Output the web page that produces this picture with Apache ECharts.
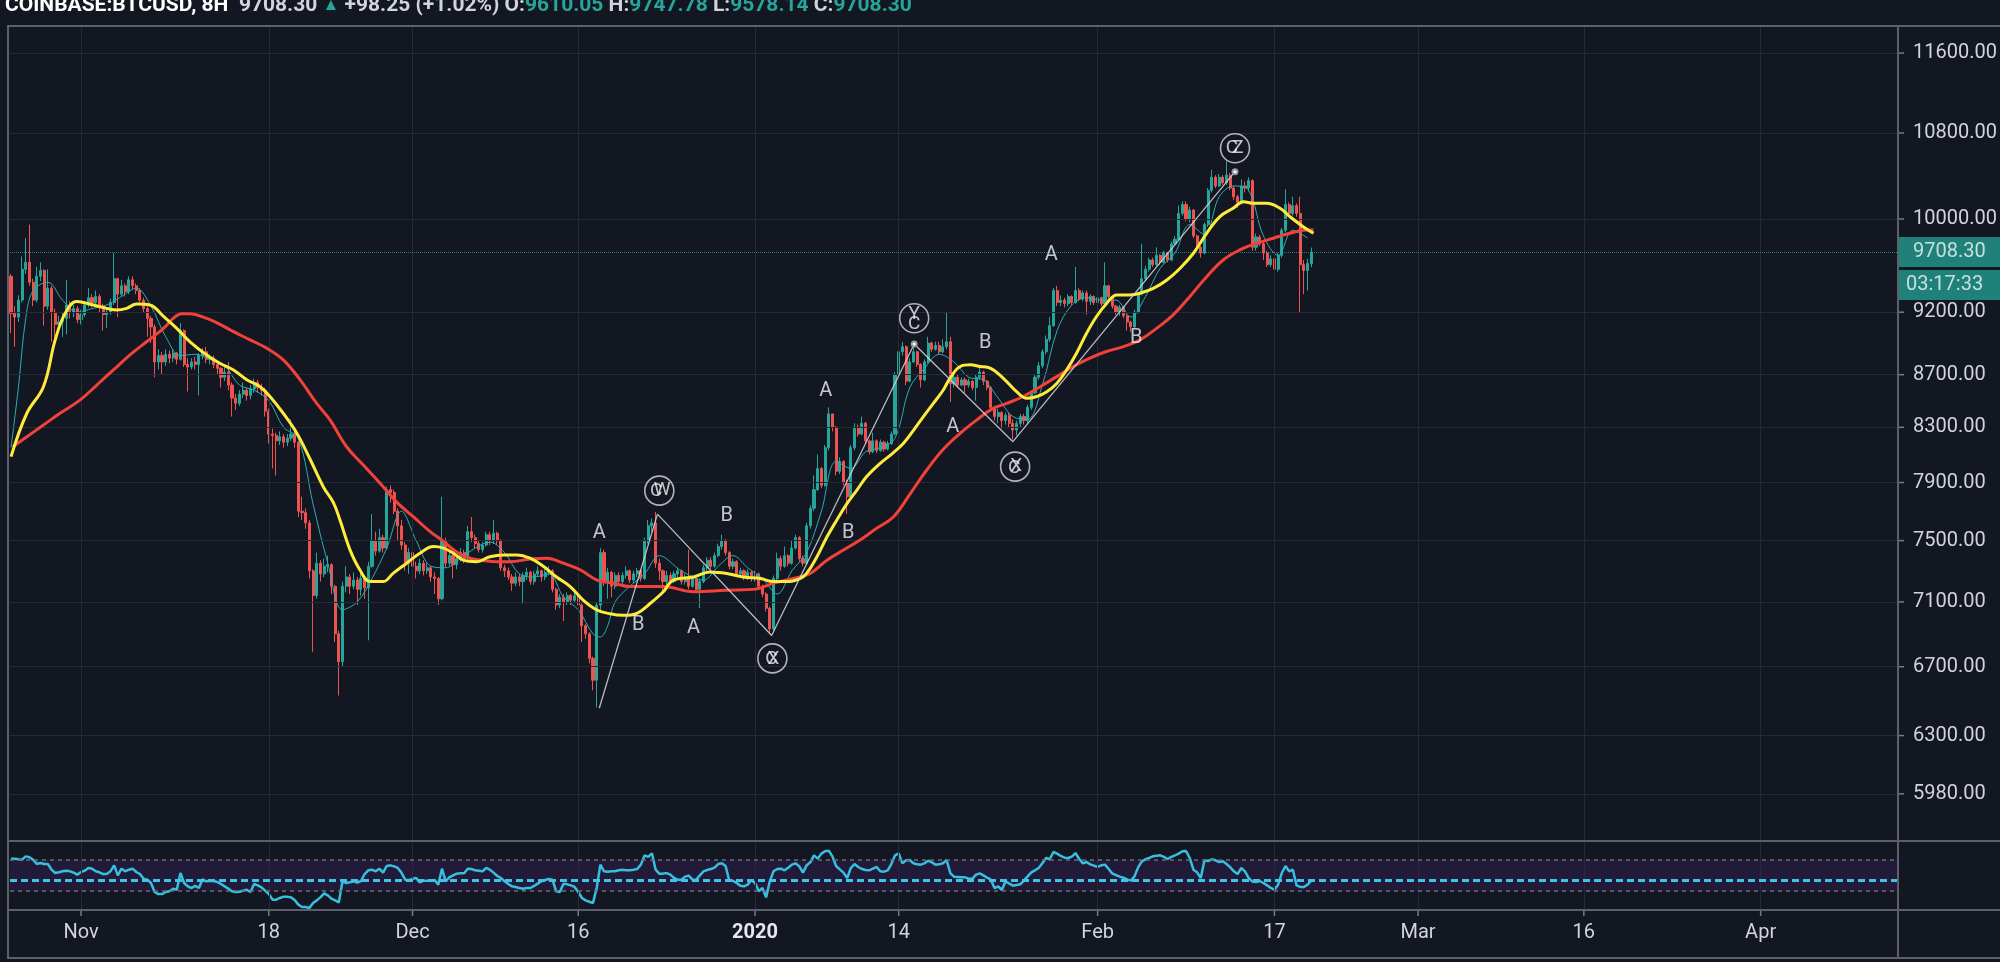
<!DOCTYPE html>
<html><head><meta charset="utf-8">
<script src="https://cdn.jsdelivr.net/npm/echarts@6/dist/echarts.min.js"></script>
<style>html,body{margin:0;padding:0;background:#131722;overflow:hidden}#chart{width:2000px;height:962px}</style>
</head><body><div id="chart"></div>
<script>
// ---------- DATA ----------
const startTime = Date.UTC(2019, 9, 25, 16); // first 8H candle
const barMs = 8 * 3600 * 1000;
const firstOpen = 9500;
const closes = [
9190,9160,9300,9560,9620,9450,9300,9500,9550,9250,
9400,9200,9100,9120,9150,9260,9200,9230,9140,9180,
9260,9320,9280,9330,9250,9180,9200,9280,9480,9350,
9420,9370,9470,9420,9380,9300,9230,9150,9080,8800,
8850,8800,8860,8830,8870,8820,9050,8780,8760,8800,
8780,8850,8880,8820,8830,8780,8750,8680,8720,8620,
8520,8480,8550,8580,8540,8590,8640,8600,8580,8420,
8250,8240,8200,8230,8190,8220,8250,8190,7700,7690,
7620,7300,7140,7350,7280,7330,7340,7200,6900,6730,
7200,7260,7200,7240,7180,7250,7190,7330,7500,7430,
7520,7450,7850,7830,7700,7600,7470,7350,7420,7330,
7300,7350,7300,7320,7260,7250,7120,7500,7350,7400,
7340,7380,7420,7380,7560,7520,7480,7440,7470,7540,
7500,7550,7500,7320,7300,7260,7220,7260,7230,7270,
7290,7230,7280,7300,7260,7290,7300,7180,7080,7130,
7100,7140,7110,7140,7080,6950,6900,6750,6620,7080,
7420,7230,7290,7200,7270,7230,7270,7300,7240,7280,
7300,7250,7500,7600,7620,7350,7300,7230,7270,7230,
7280,7300,7230,7260,7200,7250,7180,7230,7320,7370,
7330,7400,7460,7500,7420,7330,7360,7280,7300,7260,
7290,7250,7280,7200,7150,7060,6930,7250,7380,7330,
7400,7350,7450,7520,7380,7350,7600,7720,7850,8000,
7880,8150,8400,8300,7980,8050,7900,7800,8150,8300,
8250,8330,8200,8120,8200,8130,8190,8140,8180,8250,
8700,8880,8920,8650,8800,8880,8780,8660,8800,8950,
8900,8930,8880,8920,8960,8630,8680,8620,8660,8620,
8650,8600,8680,8720,8650,8600,8450,8380,8410,8350,
8390,8330,8280,8330,8380,8350,8450,8560,8680,8770,
8880,8980,9090,9380,9280,9300,9270,9330,9280,9380,
9310,9360,9290,9330,9280,9320,9270,9420,9330,9250,
9200,9240,9170,9120,9080,9200,9350,9480,9560,9640,
9600,9680,9620,9700,9640,9780,9820,10050,10130,10000,
10080,9850,9750,9700,9950,10260,10380,10300,10380,10330,
10400,10280,10200,10150,10300,10280,10350,9750,9840,9780,
9700,9600,9650,9560,9680,9900,10130,10050,10120,10050,
9600,9550,9610.05,9708.30];
const highs = [
9520,9250,9340,9670,9830,9950,9480,9580,9620,9560,
9560,9420,9230,9170,9200,9470,9290,9260,9250,9220,
9290,9400,9350,9380,9350,9270,9240,9310,9700,9490,
9470,9440,9500,9500,9440,9400,9320,9250,9170,9100,
8900,8880,8900,8890,8900,8880,9110,9060,8830,8830,
8840,8870,8910,8920,8860,8850,8800,8760,8760,8800,
8640,8550,8580,8640,8600,8620,8670,8660,8630,8600,
8440,8290,8260,8270,8250,8250,8360,8280,8200,7800,
7720,7640,7310,7420,7370,7380,7400,7350,7210,6920,
7230,7330,7280,7290,7260,7290,7270,7360,7680,7560,
7580,7540,7870,7880,7850,7720,7640,7490,7450,7440,
7360,7380,7370,7350,7330,7290,7260,7800,7520,7440,
7420,7400,7450,7440,7600,7660,7540,7500,7490,7560,
7560,7640,7560,7510,7340,7320,7280,7290,7280,7290,
7320,7300,7300,7330,7310,7310,7330,7310,7190,7150,
7150,7160,7150,7170,7150,7090,6960,6910,6760,7100,
7450,7440,7320,7300,7290,7290,7290,7330,7310,7300,
7320,7310,7520,7640,7650,7695,7380,7310,7300,7290,
7300,7320,7310,7280,7440,7270,7260,7250,7340,7390,
7390,7420,7480,7540,7510,7430,7380,7370,7320,7310,
7310,7300,7300,7290,7210,7160,7070,7270,7420,7400,
7460,7410,7500,7540,7530,7400,7620,7740,7950,8100,
8010,8170,8450,8380,8310,8080,8060,7920,8170,8330,
8320,8380,8340,8210,8260,8210,8210,8200,8200,8270,
8720,8920,8960,8930,8830,8920,8890,8790,8820,9000,
8960,8960,8960,8980,9200,9000,8710,8700,8680,8680,
8670,8660,8700,8760,8730,8660,8610,8460,8440,8420,
8410,8410,8360,8350,8400,8400,8470,8580,8700,8800,
8900,9010,9160,9400,9420,9340,9320,9350,9340,9580,
9400,9380,9380,9350,9340,9340,9330,9620,9430,9340,
9260,9260,9250,9180,9130,9220,9370,9780,9590,9660,
9660,9750,9690,9720,9710,9800,9850,10120,10160,10160,
10110,10090,9860,9760,9970,10280,10450,10400,10410,10400,
10530,10420,10300,10220,10360,10340,10380,10360,9870,9860,
9800,9720,9680,9660,9700,9920,10270,10150,10200,10140,
10200,9640,9650,9747.78];
const lows = [
9030,8920,9120,9280,9520,9420,9250,9280,9460,9090,
9220,8960,8990,9050,9000,9020,9150,9160,9110,9100,
9160,9240,9240,9260,9200,9050,9070,9180,9260,9160,
9330,9330,9350,9390,9350,9270,9200,9000,8950,8680,
8740,8700,8770,8790,8800,8780,8810,8760,8570,8740,
8740,8540,8820,8790,8780,8750,8700,8600,8650,8580,
8380,8430,8460,8520,8500,8510,8560,8560,8540,8380,
8180,8000,7950,8170,8150,8160,8200,8150,7660,7640,
7580,7250,6790,7120,7230,7260,7290,7150,6850,6530,
6700,7160,7150,7180,7080,7140,7120,6860,7320,7400,
7420,7420,7440,7760,7680,7500,7440,7300,7280,7200,
7250,7280,7270,7280,7230,7150,7080,7110,7320,7330,
7250,7310,7360,7350,7370,7490,7450,7420,7420,7460,
7470,7480,7470,7300,7260,7240,7170,7200,7200,7090,
7240,7210,7210,7260,7230,7240,7270,7160,7050,7060,
6980,7080,7080,7100,7060,6850,6870,6720,6560,6460,
7050,7200,7120,7130,7180,7200,7210,7250,7220,7220,
7260,7230,7240,7480,7560,7320,7240,7150,7200,7210,
7220,7260,7210,7210,7180,7190,7160,7060,7220,7300,
7310,7320,7390,7440,7400,7310,7310,7260,7260,7240,
7240,7230,7230,7180,7130,7040,6900,6920,7240,7300,
7320,7330,7340,7440,7360,7330,7340,7580,7700,7840,
7860,7870,8130,8270,7950,7960,7880,7680,7790,8130,
8230,8240,8180,8100,8110,8110,8120,8120,8130,8170,
8240,8690,8850,8620,8640,8790,8760,8600,8650,8790,
8880,8890,8860,8870,8900,8490,8600,8600,8610,8560,
8600,8580,8500,8660,8620,8580,8420,8350,8330,8290,
8320,8300,8210,8240,8300,8320,8330,8430,8550,8660,
8750,8860,8960,9080,9250,9250,9240,9250,9260,9270,
9290,9290,9180,9260,9260,9260,9250,9260,9310,9230,
9180,9170,9150,9050,9040,9070,9190,9340,9460,9540,
9580,9590,9600,9610,9620,9630,9760,9810,10030,9980,
9970,9830,9730,9660,9690,9930,10240,10280,10290,10310,
10310,10260,10170,10100,10130,10240,10250,9720,9720,9760,
9640,9580,9580,9500,9540,9660,9880,10020,10030,10020,
9200,9350,9380,9578.14];
const rsiValues = [
71.7,71.7,70.9,70.4,74.7,73.5,70.4,64.8,66.1,64.8,
64.8,57.5,53.2,54.1,55.4,56.2,55.4,53.7,51.1,54.5,
56.2,59.7,58.8,55.4,54.1,51.9,51.9,55.4,63.1,50.2,
58.8,55.4,57.5,58.8,54.5,51.9,45.9,44.6,40.3,28.7,
26.1,26.1,28.7,29.6,33.0,31.7,53.2,40.3,36.0,33.9,
36.5,33.9,45.1,42.5,43.3,42.9,41.6,39.0,36.0,33.0,
29.6,28.7,29.1,30.4,31.7,28.7,39.0,37.3,34.7,30.4,
26.1,18.8,18.8,21.0,22.7,22.7,21.8,18.4,12.4,9.4,
9.4,8.1,14.5,17.9,21.8,27.0,24.4,20.1,17.9,15.4,
42.5,40.3,41.2,42.5,40.8,42.9,51.9,56.7,57.5,55.4,
58.8,53.7,62.3,63.1,61.8,59.7,53.7,44.6,43.8,45.9,
46.8,41.2,43.3,43.3,43.3,44.2,38.2,58.8,42.5,47.6,
50.2,52.4,52.8,52.8,58.8,58.4,56.7,56.2,55.4,59.7,
57.5,53.7,49.4,46.8,42.5,39.0,36.0,35.2,33.9,33.0,
33.9,33.9,36.5,39.5,42.5,44.2,45.5,44.6,29.6,28.7,
39.5,38.6,37.3,35.2,28.7,21.0,17.9,16.2,14.5,33.9,
64.0,55.4,54.9,55.4,55.4,56.7,57.5,56.7,56.7,57.5,
58.4,64.0,76.0,73.9,78.6,57.5,52.4,52.4,53.2,51.1,
46.8,44.6,44.6,48.5,49.8,44.6,44.6,50.2,55.4,57.1,
58.4,60.1,64.8,65.7,62.3,43.3,43.3,40.3,36.9,36.0,
38.2,44.2,40.3,29.6,33.9,21.8,42.5,55.4,58.4,58.8,
56.7,60.1,64.0,65.7,61.8,53.7,63.1,67.0,76.0,71.7,
78.2,81.2,82.0,74.7,62.3,57.9,53.7,46.8,59.7,64.8,
61.0,58.4,57.1,56.7,58.8,61.0,55.4,54.9,56.7,64.8,
76.0,78.6,65.7,69.6,70.0,65.7,64.4,64.0,65.7,69.1,
67.0,64.0,64.4,65.7,70.0,53.2,48.5,48.1,47.6,47.6,
45.9,45.9,51.1,52.8,50.2,47.2,44.6,33.9,36.0,31.3,
42.5,39.5,36.9,37.8,38.6,43.8,48.9,54.1,56.7,59.7,
65.7,72.6,70.9,80.3,78.2,75.2,73.0,72.6,74.3,79.0,
71.3,65.7,67.4,64.4,62.7,61.0,63.1,64.0,58.4,52.4,
50.6,48.5,47.2,45.1,43.3,48.9,60.5,68.3,70.9,72.6,
74.7,75.6,76.0,73.9,71.3,73.9,76.0,78.2,81.2,81.6,
72.6,57.5,54.1,46.8,69.6,68.7,70.9,69.6,67.4,68.3,
64.8,60.5,55.4,51.9,59.7,55.4,46.8,42.1,41.6,42.9,
40.3,37.3,33.9,31.7,38.2,53.2,62.3,55.4,57.5,37.3,
35.2,35.2,38.2,43.3];
// moving averages: [candle index, value]
const yellowMA = [[0,8085],[4.3,8405],[8.8,8607],[12,8975],[14.7,9191],[17.8,9288],[20.5,9274],[24.2,9245],[28.7,9218],[31.4,9232],[34.1,9268],[37.7,9260],[41.4,9165],[45,9068],[48.6,8960],[53.1,8855],[56.7,8789],[60.4,8737],[64,8660],[67.6,8607],[70.3,8532],[73.9,8405],[77.6,8256],[81.2,8066],[84.8,7869],[87.5,7760],[89.3,7640],[92,7440],[94.7,7307],[97.5,7230],[101,7230],[103.8,7285],[107.4,7350],[111,7416],[114.7,7460],[117.4,7450],[120.1,7416],[122.8,7370],[126.4,7360],[130,7393],[133.7,7405],[137.3,7405],[140.9,7383],[144.5,7330],[148.1,7260],[151.8,7198],[155.4,7110],[159,7050],[162.6,7025],[166.3,7015],[169.9,7028],[173.5,7090],[177.1,7165],[179.8,7240],[185.3,7260],[189.8,7293],[194.3,7283],[198.8,7260],[203.4,7250],[207,7230],[210.6,7230],[214.2,7250],[216,7283],[218.8,7393],[221.5,7524],[224.2,7640],[226.9,7751],[229.6,7845],[232.3,7942],[235.9,8035],[239.5,8113],[242.3,8183],[245,8278],[247.7,8380],[250.4,8479],[253.1,8582],[254.9,8672],[257.7,8764],[260.4,8777],[263.1,8764],[265.8,8751],[269.4,8672],[273,8569],[275.8,8518],[278.5,8532],[281.2,8569],[283.9,8632],[286.6,8737],[289.3,8870],[292,9028],[294.7,9165],[297.5,9274],[300.2,9343],[303.8,9343],[306.5,9357],[310.1,9398],[313.8,9469],[317.4,9569],[321,9698],[324.6,9873],[328.2,10021],[331.8,10096],[334.6,10156],[337.3,10141],[340.9,10141],[344.5,10096],[347.2,10021],[350.8,9931],[353.6,9873]];
const redMA = [[0.5,8157],[4.3,8230],[8.8,8317],[13.3,8405],[18.7,8504],[23.3,8620],[27.8,8737],[32.3,8855],[36.8,8960],[41.4,9068],[44.1,9151],[46.3,9187],[48.6,9187],[52.2,9159],[55.8,9115],[60.4,9041],[64.9,8975],[69.4,8909],[73.9,8816],[78.5,8660],[83,8479],[86.6,8355],[91.1,8157],[95.7,8023],[100.2,7895],[104.7,7763],[109.2,7662],[113.8,7561],[117.4,7495],[120.8,7428],[124.6,7383],[128.2,7368],[131.9,7360],[135.5,7360],[140.9,7377],[145.4,7383],[150,7350],[154.5,7307],[159.1,7240],[163.5,7220],[168.1,7198],[172.6,7198],[177.1,7198],[185.3,7165],[194.3,7175],[201.6,7180],[207,7220],[212.4,7250],[217,7283],[221.5,7370],[226,7437],[230.5,7504],[235,7583],[239.6,7662],[244.1,7821],[248.6,7989],[253.1,8138],[257.7,8256],[262.2,8355],[266.5,8440],[270.3,8479],[274.8,8532],[279.4,8607],[283.9,8685],[288.4,8764],[292.9,8830],[297.4,8882],[302,8921],[306.5,8975],[311,9068],[315.5,9178],[320,9329],[324.6,9497],[329.1,9640],[333.6,9727],[338.1,9785],[342.7,9829],[347.2,9873],[351.7,9902],[353.6,9902]];
const tealMA = [[0,8150],[2,8600],[4,9150],[6,9380],[10,9450],[14,9300],[18,9200],[22,9230],[26,9260],[30,9330],[34,9400],[38,9250],[42,9000],[46,8850],[50,8860],[54,8820],[58,8770],[62,8620],[66,8580],[70,8500],[74,8300],[78,8220],[82,7750],[86,7350],[90,7050],[94,7100],[98,7250],[102,7450],[106,7700],[110,7500],[114,7330],[118,7320],[122,7380],[126,7450],[130,7490],[134,7420],[138,7280],[142,7260],[146,7280],[150,7130],[154,7050],[158,6900],[160,6880],[162,6950],[164,7100],[168,7200],[172,7280],[176,7400],[182,7300],[188,7240],[192,7330],[196,7400],[200,7320],[204,7250],[208,7150],[212,7300],[216,7420],[220,7700],[224,8050],[228,8000],[232,8120],[236,8150],[240,8220],[244,8600],[248,8750],[252,8860],[256,8800],[260,8680],[264,8660],[268,8520],[272,8380],[276,8360],[280,8620],[284,9050],[288,9260],[292,9320],[296,9300],[300,9300],[304,9160],[308,9330],[312,9570],[316,9700],[320,9950],[324,9860],[328,10200],[332,10300],[336,10260],[340,9850],[344,9680],[348,9900],[352,9830]];
const priceTicks = [11600, 10800, 10000, 9200, 8700, 8300, 7900, 7500, 7100, 6700, 6300, 5980];
const timeTickDates = ['2019-11-01','2019-11-18','2019-12-01','2019-12-16','2020-01-01','2020-01-14','2020-02-01','2020-02-17','2020-03-01','2020-03-16','2020-04-01'];
const timeTickLabels = ['Nov','18','Dec','16','2020','14','Feb','17','Mar','16','Apr'];
const lastPrice = 9708.30;
const countdown = '03:17:33';
const rsiUpper = 70, rsiLower = 30, rsiMid = 43.3;
const symbolName = 'COINBASE:BTCUSD, 8H';
const headerChange = '+98.25 (+1.02%)';
const headerO = '9610.05', headerH = '9747.78', headerL = '9578.14', headerC = '9708.30';
// Elliott wave drawing (candle index, price)
const wavePath = [[159.7,6456],[175.5,7680],[206.5,6890],[245.2,8942],[272,8194],[332.3,10432]];
const waveLetters = [[159.7,7549,'A'],[170.3,6954,'B'],[185.3,6934,'A'],[194.3,7667,'B'],[221.2,8576,'A'],[227.3,7549,'B'],[255.7,8300,'A'],[264.5,8953,'B'],[282.4,9683,'A'],[305.5,8988,'B']];
const waveCircles = [[176,7843,'W','C'],[206.7,6750,'X','C'],[245.2,9150,'Y','C'],[272.6,8013,'X','C'],[332.3,10653,'Z','C']];

// ---------- BUILD ----------
const DAY = 86400000;
const T = i => startTime + i * barMs;
const xMin = Date.UTC(2019, 10, 1) - 6.425 * DAY;
const xMax = Date.UTC(2019, 10, 1) + 164.43 * DAY;
const opens = closes.map((c, i) => i === 0 ? firstOpen : closes[i - 1]);
const candleData = closes.map((c, i) => [T(i), opens[i], c, lows[i], highs[i]]);
const toXY = arr => arr.map(p => [T(p[0]), p[1]]);
const FONT = 'Roboto';
const gridColor = '#252a35';
const textColor = '#d1d4dc';
const tickTimes = timeTickDates.map(d => Date.parse(d));

// style offsets for the stacked glyphs in circles
const primaryOffsets = [[3,0],[1,1],[0,-4],[1,0],[3,0]];
const secondaryOffsets = [[-3,1],[-1,1],[0,6],[-1,2],[-3,0]];

const chart = echarts.init(document.getElementById('chart'));
const option = {
  backgroundColor: '#131722',
  animation: false,
  textStyle: { fontFamily: FONT },
  title: {
    left: 0, top: -10,
    text: '{s|' + symbolName + '}  {p|' + lastPrice.toFixed(2) + '} {u|▲} {c|' + headerChange + '} {k|O:}{v|' + headerO + '} {k|H:}{v|' + headerH + '} {k|L:}{v|' + headerL + '} {k|C:}{v|' + headerC + '}',
    textStyle: {
      fontSize: 21, color: textColor, fontFamily: FONT,
      rich: {
        s: { fontSize: 21, fontWeight: 'bold', color: '#ffffff', fontFamily: FONT },
        p: { fontSize: 21, color: textColor, fontFamily: FONT },
        u: { fontSize: 17, color: '#26a69a', fontFamily: FONT },
        c: { fontSize: 21, color: textColor, fontFamily: FONT },
        k: { fontSize: 21, color: textColor, fontFamily: FONT },
        v: { fontSize: 21, color: '#26a69a', fontFamily: FONT }
      }
    }
  },
  grid: [
    { left: 10, right: 102, top: 26, height: 815 },
    { left: 10, right: 102, top: 841, height: 69 }
  ],
  xAxis: [
    { type: 'time', gridIndex: 0, min: xMin, max: xMax, show: false },
    { type: 'time', gridIndex: 1, min: xMin, max: xMax, show: false }
  ],
  yAxis: [
    { type: 'log', logBase: 10, gridIndex: 0, position: 'right', min: 5733, max: 11884, show: false },
    { type: 'value', gridIndex: 1, position: 'right', min: 5.5, max: 94.5, show: false }
  ],
  graphic: [
    { type: 'rect', silent: true, z: 100, shape: { x: 8, y: 26, width: 2100, height: 932 }, style: { fill: 'none', stroke: '#5d606b', lineWidth: 2 } },
    { type: 'line', silent: true, z: 100, shape: { x1: 8, y1: 841, x2: 2000, y2: 841 }, style: { stroke: '#5d606b', lineWidth: 2 } },
    { type: 'line', silent: true, z: 100, shape: { x1: 8, y1: 910, x2: 2000, y2: 910 }, style: { stroke: '#5d606b', lineWidth: 2 } },
    { type: 'line', silent: true, z: 100, shape: { x1: 1898, y1: 26, x2: 1898, y2: 958 }, style: { stroke: '#5d606b', lineWidth: 2 } }
  ],
  series: [
    // grid lines + price scale labels + last price line (main pane)
    {
      type: 'line', xAxisIndex: 0, yAxisIndex: 0, z: 1, silent: true,
      data: [[T(closes.length - 1), lastPrice]], symbol: 'none', lineStyle: { width: 0 },
      markLine: {
        silent: true, symbol: ['none', 'none'], animation: false,
        data: [].concat(
          priceTicks.map(v => ({
            yAxis: v,
            lineStyle: { color: gridColor, width: 1, type: 'solid' },
            label: {
              show: true, position: 'end', distance: 0,
              formatter: p => '{tk|}{lb|' + Number(p.value).toFixed(2) + '}',
              rich: {
                tk: { width: 6, height: 1.5, backgroundColor: '#787b86' },
                lb: { fontSize: 20, color: textColor, fontFamily: FONT, padding: [0, 0, 0, 9] }
              }
            }
          })),
          tickTimes.map(t => ({
            xAxis: t,
            lineStyle: { color: gridColor, width: 1, type: 'solid' },
            label: { show: false }
          })),
          [{
            yAxis: lastPrice,
            lineStyle: { color: '#26a69a', width: 1, type: 'dotted', opacity: 0.75 },
            label: {
              show: true, position: 'end', distance: 0,
              formatter: '{e| }\n{p|' + lastPrice.toFixed(2) + '}\n{g| }\n{t|' + countdown + '}',
              rich: {
                e: { height: 33, width: 102, fontSize: 1 },
                p: { height: 30, width: 87, padding: [0, 0, 0, 15], backgroundColor: '#26a69a', color: '#ffffff', fontSize: 20, fontFamily: FONT },
                g: { height: 3, width: 102, fontSize: 1 },
                t: { height: 30, width: 94, padding: [0, 0, 0, 8], backgroundColor: '#26a69a', color: '#ffffff', fontSize: 20, fontFamily: FONT }
              }
            }
          }]
        )
      }
    },
    // candles
    {
      type: 'candlestick', xAxisIndex: 0, yAxisIndex: 0, z: 3,
      data: candleData, barWidth: 2.6,
      itemStyle: { color: '#26a69a', color0: '#ef5350', borderColor: '#26a69a', borderColor0: '#ef5350', borderWidth: 1 }
    },
    // moving averages
    { type: 'line', xAxisIndex: 0, yAxisIndex: 0, z: 4, data: toXY(tealMA), smooth: 0.35, showSymbol: false, lineStyle: { color: '#2aaeb5', width: 1 } },
    { type: 'line', xAxisIndex: 0, yAxisIndex: 0, z: 5, data: toXY(redMA), smooth: 0.4, showSymbol: false, lineStyle: { color: '#f2413a', width: 3 } },
    { type: 'line', xAxisIndex: 0, yAxisIndex: 0, z: 6, data: toXY(yellowMA), smooth: 0.4, showSymbol: false, lineStyle: { color: '#ffeb3b', width: 3 } },
    // Elliott wave path
    {
      type: 'line', xAxisIndex: 0, yAxisIndex: 0, z: 8, data: toXY(wavePath),
      lineStyle: { color: 'rgba(215,215,220,0.85)', width: 1.3 },
      symbol: 'emptyCircle', showAllSymbol: true,
      symbolSize: (v, p) => (p.dataIndex === 3 || p.dataIndex === 5) ? 5 : 0,
      itemStyle: { color: '#9598a1', borderColor: '#9598a1', borderWidth: 1 }
    },
    // A / B letters
    {
      type: 'scatter', xAxisIndex: 0, yAxisIndex: 0, z: 9, silent: true,
      data: waveLetters.map(w => [T(w[0]), w[1], w[2]]),
      symbol: 'circle', symbolSize: 1, itemStyle: { color: 'rgba(0,0,0,0)' },
      label: { show: true, position: 'inside', formatter: p => p.data[2], color: '#f0f1f4', fontSize: 20, fontFamily: FONT }
    },
    // circled labels (primary glyph)
    {
      type: 'scatter', xAxisIndex: 0, yAxisIndex: 0, z: 9, silent: true,
      data: waveCircles.map((w, i) => ({ value: [T(w[0]), w[1], w[2]], label: { offset: primaryOffsets[i] } })),
      symbol: 'circle', symbolSize: 29,
      itemStyle: { color: 'rgba(0,0,0,0)', borderColor: '#d9dadf', borderWidth: 1.6 },
      label: { show: true, position: 'inside', formatter: p => p.value[2], color: '#f0f1f4', fontSize: 19, fontFamily: FONT }
    },
    // circled labels (stacked secondary glyph)
    {
      type: 'scatter', xAxisIndex: 0, yAxisIndex: 0, z: 10, silent: true,
      data: waveCircles.map((w, i) => ({ value: [T(w[0]), w[1], w[3]], label: { offset: secondaryOffsets[i] } })),
      symbol: 'circle', symbolSize: 1, itemStyle: { color: 'rgba(0,0,0,0)' },
      label: { show: true, position: 'inside', formatter: p => p.value[2], color: '#f0f1f4', fontSize: 19, fontFamily: FONT }
    },
    // RSI pane helper: band, level lines, time grid + time labels
    {
      type: 'line', xAxisIndex: 1, yAxisIndex: 1, z: 1, silent: true,
      data: [[T(rsiValues.length - 1), rsiMid]], symbol: 'none', lineStyle: { width: 0 },
      markArea: { silent: true, itemStyle: { color: 'rgba(120,60,200,0.14)' }, data: [[{ yAxis: rsiLower }, { yAxis: rsiUpper }]] },
      markLine: {
        silent: true, symbol: ['none', 'none'], animation: false,
        data: [].concat(
          tickTimes.map((t, i) => ({
            xAxis: t,
            lineStyle: { color: gridColor, width: 1, type: 'solid' },
            label: {
              show: true, position: 'start', distance: 0,
              formatter: '{tk|}\n{' + (timeTickLabels[i] === '2020' ? 'lbb' : 'lb') + '|' + timeTickLabels[i] + '}',
              rich: {
                tk: { width: 1.5, height: 6, backgroundColor: '#787b86' },
                lb: { fontSize: 20, color: textColor, fontFamily: FONT, lineHeight: 24, padding: [9, 0, 0, 0] },
                lbb: { fontSize: 20, color: '#e6e8ee', fontWeight: 'bold', fontFamily: FONT, lineHeight: 24, padding: [9, 0, 0, 0] }
              }
            }
          })),
          [
            { yAxis: rsiUpper, lineStyle: { color: '#6b6e7a', width: 1.5, type: [4, 4] }, label: { show: false } },
            { yAxis: rsiLower, lineStyle: { color: '#6b6e7a', width: 1.5, type: [4, 4] }, label: { show: false } },
            { yAxis: rsiMid, lineStyle: { color: '#3fc3e6', width: 3, type: [7, 4] }, label: { show: false } }
          ]
        )
      }
    },
    // RSI line
    {
      type: 'line', xAxisIndex: 1, yAxisIndex: 1, z: 4,
      data: rsiValues.map((v, i) => [T(i), v]), showSymbol: false,
      lineStyle: { color: '#38bfe0', width: 2.5 }
    }
  ]
};
chart.setOption(option);
</script>
</body></html>
